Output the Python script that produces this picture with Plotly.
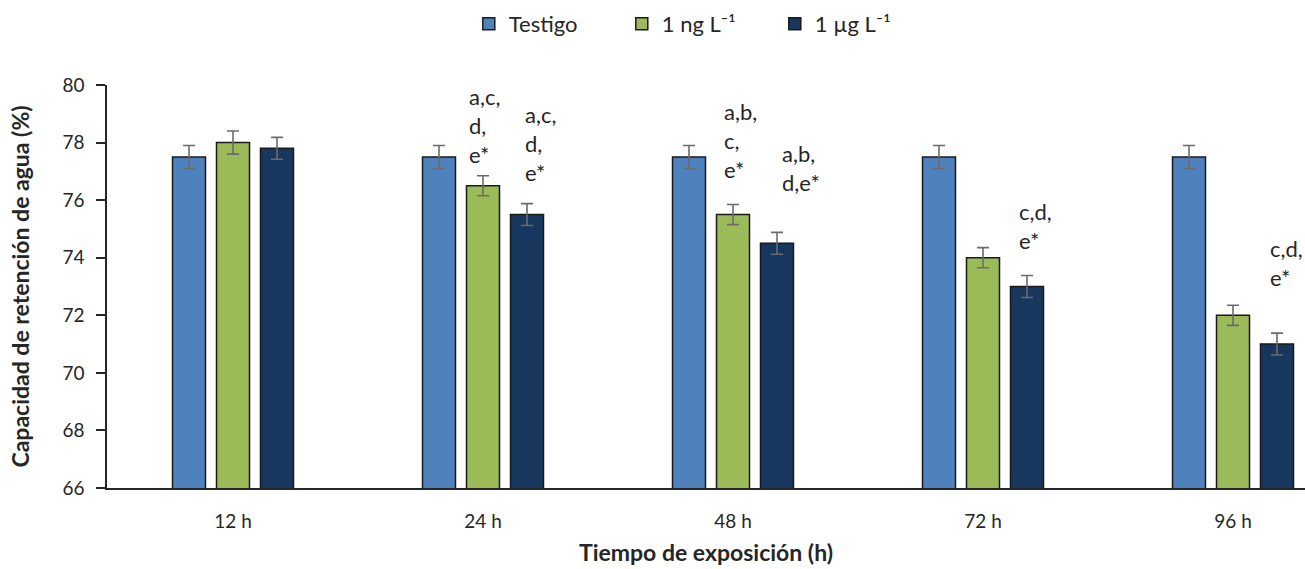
import plotly.graph_objects as go

# Exposure times (categories)
tiempos = ["12 h", "24 h", "48 h", "72 h", "96 h"]

# Water retention capacity (%) per treatment
testigo = [77.5, 77.5, 77.5, 77.5, 77.5]
ng_l = [78.0, 76.5, 75.5, 74.0, 72.0]
ug_l = [77.8, 75.5, 74.5, 73.0, 71.0]

# Standard error per treatment
err_testigo = [0.4, 0.4, 0.4, 0.4, 0.4]
err_ng = [0.4, 0.35, 0.35, 0.35, 0.35]
err_ug = [0.38, 0.38, 0.38, 0.38, 0.38]

series_names = ["Testigo", "1 ng L⁻¹", "1 µg L⁻¹"]
colors = ["#4F81BD", "#9BBB59", "#17375E"]

# Significance letters: (category index, series index, lines)
sig_labels = [
    (1, 1, ["a,c,", "d,", "e*"]),
    (1, 2, ["a,c,", "d,", "e*"]),
    (2, 1, ["a,b,", "c,", "e*"]),
    (2, 2, ["a,b,", "d,e*"]),
    (3, 2, ["c,d,", "e*"]),
    (4, 2, ["c,d,", "e*"]),
]

FONT = "Lato"
values = [testigo, ng_l, ug_l]
errors = [err_testigo, err_ng, err_ug]

fig = go.Figure()
for name, vals, errs, col in zip(series_names, values, errors, colors):
    fig.add_trace(go.Bar(
        x=tiempos, y=vals, name=name,
        marker=dict(color=col, line=dict(color="#1a1a1a", width=1.5)),
        error_y=dict(type="data", array=errs, visible=True,
                     color="#6b6b6b", thickness=1.6, width=6),
    ))

# Placement of the letter blocks (px above error cap, px from bar left edge)
label_gap = [21, 31, 35, 50, 35, 56]
label_dx = [2, 14, 7, 21, 8, 9]
slot = 0.176
half_bar = 0.066
line_step = 29

for (ci, si, lines), gap, dx in zip(sig_labels, label_gap, label_dx):
    top = values[si][ci] + errors[si][ci]
    xpos = ci + (si - 1) * slot - half_bar
    n = len(lines)
    for i, txt in enumerate(lines):
        fig.add_annotation(
            x=xpos, y=top, text=txt, showarrow=False,
            xanchor="left", yanchor="middle",
            xshift=dx - 2, yshift=gap + (n - 1 - i) * line_step,
            font=dict(family=FONT, size=22, color="#262626"),
        )

fig.update_layout(
    width=1305, height=569,
    margin=dict(l=107, r=0, t=85, b=81),
    paper_bgcolor="white", plot_bgcolor="white",
    barmode="group", bargap=0.472, bargroupgap=0.25,
    font=dict(family=FONT, color="#404040"),
    legend=dict(orientation="h", x=0.302, xanchor="left", y=0.995,
                yanchor="top", yref="container",
                font=dict(family=FONT, size=22, color="#262626"),
                entrywidth=108, itemwidth=30),
    showlegend=True,
)

fig.update_xaxes(
    type="category", range=[-0.504, 4.288],
    showline=True, linecolor="#262626", linewidth=1.5,
    ticks="", showgrid=False, ticklabelstandoff=15,
    tickfont=dict(family=FONT, size=19, color="#262626"),
    title=dict(text="<b>Tiempo de exposición (h)</b>", standoff=14,
               font=dict(family=FONT, size=23, color="#262626")),
)
fig.update_yaxes(
    range=[66, 80], dtick=2, tick0=66,
    showline=True, linecolor="#262626", linewidth=1.5,
    ticks="outside", ticklen=9, tickcolor="#262626", tickwidth=1.5,
    showgrid=False, zeroline=False, ticklabelstandoff=8,
    tickfont=dict(family=FONT, size=19, color="#262626"),
    title=dict(text="<b>Capacidad de retención de agua (%)</b>", standoff=26,
               font=dict(family=FONT, size=23, color="#262626")),
)

fig.write_html("out.html")
